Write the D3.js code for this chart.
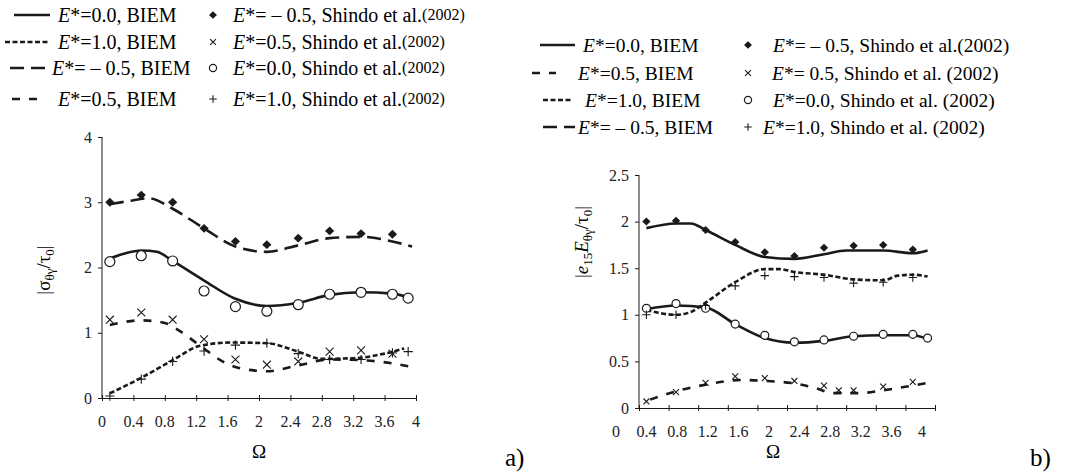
<!DOCTYPE html>
<html>
<meta charset="utf-8">
<head>
<script src="https://d3js.org/d3.v7.min.js"></script>
<style>
body { margin: 0; background: #fff; }
</style>
</head>
<body>
<div id="chart"></div>
<script>
// ---------- panel a) |sigma/tau0| ----------
var omPts = [0.1, 0.5, 0.9, 1.3, 1.7, 2.1, 2.5, 2.9, 3.3, 3.7, 3.9];
var diamondA = [3.0, 3.11, 3.0, 2.60, 2.40, 2.35, 2.45, 2.56, 2.52, 2.51];
var circleA = [2.09, 2.18, 2.10, 1.64, 1.40, 1.33, 1.43, 1.59, 1.62, 1.59, 1.53];
var crossA = [1.20, 1.31, 1.20, 0.90, 0.59, 0.51, 0.56, 0.71, 0.73, 0.68];
var plusA = [0.03, 0.29, 0.56, 0.72, 0.81, 0.84, 0.68, 0.59, 0.59, 0.69, 0.71];

var solidAOm = [0.1, 0.3, 0.5, 0.7, 0.9, 1.3, 1.7, 2.1, 2.5, 2.9, 3.3, 3.7, 3.95];
var solidA = [2.14, 2.22, 2.26, 2.24, 2.10, 1.80, 1.52, 1.41, 1.46, 1.58, 1.62, 1.60, 1.52];
var longDashAOm = [0.1, 0.3, 0.6, 0.9, 1.3, 1.7, 2.1, 2.5, 2.9, 3.3, 3.7, 3.95];
var longDashA = [2.97, 3.01, 3.06, 2.90, 2.60, 2.32, 2.24, 2.34, 2.45, 2.47, 2.40, 2.32];
var dotAOm = [0.1, 0.5, 0.9, 1.25, 1.65, 2.1, 2.5, 2.8, 3.2, 3.6, 3.85];
var dotA = [0.07, 0.31, 0.58, 0.80, 0.85, 0.84, 0.71, 0.60, 0.61, 0.68, 0.76];
var dashAOm = [0.1, 0.5, 0.8, 1.0, 1.25, 1.6, 1.95, 2.1, 2.5, 2.9, 3.3, 3.7, 4.0];
var dashA = [1.12, 1.19, 1.15, 1.02, 0.80, 0.52, 0.42, 0.41, 0.50, 0.59, 0.58, 0.53, 0.46];

// ---------- panel b) |e15 E/tau0| ----------
var diamondB = [2.0, 2.01, 1.91, 1.78, 1.67, 1.63, 1.72, 1.74, 1.75, 1.70];
var circleB = [1.07, 1.12, 1.07, 0.90, 0.78, 0.71, 0.73, 0.77, 0.79, 0.79, 0.75];
var plusB = [1.0, 1.0, 1.1, 1.31, 1.42, 1.41, 1.40, 1.34, 1.35, 1.40];
var crossBOm = [0.1, 0.5, 0.9, 1.3, 1.7, 2.1, 2.5, 2.7, 2.9, 3.3, 3.7];
var crossB = [0.07, 0.17, 0.27, 0.34, 0.32, 0.29, 0.24, 0.19, 0.19, 0.23, 0.28];

var topSolidBOm = [0.1, 0.5, 0.7, 0.9, 1.3, 1.7, 2.1, 2.5, 2.8, 3.3, 3.7, 3.9];
var topSolidB = [1.93, 1.98, 1.98, 1.91, 1.75, 1.62, 1.60, 1.65, 1.69, 1.69, 1.66, 1.69];
var lowSolidBOm = [0.1, 0.5, 0.9, 1.3, 1.7, 2.1, 2.5, 2.9, 3.3, 3.7, 3.9];
var lowSolidB = [1.06, 1.10, 1.08, 0.90, 0.75, 0.70, 0.72, 0.77, 0.78, 0.78, 0.74];
var dotBOm = [0.1, 0.5, 0.7, 0.9, 1.3, 1.7, 1.9, 2.1, 2.5, 2.9, 3.3, 3.5, 3.7, 3.9];
var dotB = [1.05, 1.0, 1.03, 1.13, 1.35, 1.49, 1.49, 1.46, 1.43, 1.38, 1.37, 1.42, 1.43, 1.41];
var dashBOm = [0.15, 0.55, 0.9, 1.37, 1.73, 2.13, 2.4, 2.62, 2.98, 3.3, 3.62, 3.9];
var dashB = [0.09, 0.19, 0.25, 0.30, 0.29, 0.26, 0.21, 0.16, 0.16, 0.19, 0.23, 0.27];

var xTicks = [0, 0.4, 0.8, 1.2, 1.6, 2, 2.4, 2.8, 3.2, 3.6, 4];
var yTicksA = [0, 1, 2, 3, 4];
var yTicksB = [0, 0.5, 1, 1.5, 2, 2.5];

var serif = '"Liberation Serif", "Times New Roman", serif';
var svg = d3.select("#chart").append("svg")
    .attr("width", 1071).attr("height", 476)
    .style("font-family", serif);

var ink = "#1a1a1a";
var styles = {
  solid: null,
  longDash: "14,7",
  dot: "5,2.5",
  dash: "8,9"
};

function zip(xs, ys) {
  return ys.map(function(v, i) { return [xs[i], v]; });
}

// s scales the marker size (left panel is drawn a bit bigger)
function markers(g, x, y, xs, ys, kind, s) {
  s = s || 1;
  var pts = zip(xs, ys);
  var sel = g.append("g").selectAll("path").data(pts).enter().append("path")
      .attr("transform", function(d) { return "translate(" + x(d[0]) + "," + y(d[1]) + ") scale(" + s + ")"; });
  if (kind == "diamond") {
    sel.attr("d", "M0,-4.2L4.4,0L0,4.2L-4.4,0Z").attr("fill", ink);
  } else if (kind == "circle") {
    sel.attr("d", d3.symbol().type(d3.symbolCircle).size(50))
       .attr("fill", "#fff").attr("stroke", ink).attr("stroke-width", 1.2 / s);
  } else if (kind == "cross") {
    sel.attr("d", "M-3.3,-3.3L3.3,3.3M-3.3,3.3L3.3,-3.3").attr("stroke", ink).attr("stroke-width", 1.1 / s);
  } else {
    sel.attr("d", "M-4.2,0H4.2M0,-4.2V4.2").attr("stroke", ink).attr("stroke-width", 1.1 / s);
  }
}

function curve(g, x, y, xs, ys, style) {
  var line = d3.line().x(function(d) { return x(d[0]); }).y(function(d) { return y(d[1]); })
      .curve(d3.curveMonotoneX);
  g.append("path").datum(zip(xs, ys))
    .attr("d", line).attr("fill", "none").attr("stroke", ink)
    .attr("stroke-width", 2.6).attr("stroke-dasharray", styles[style]);
}

function axes(g, x, y, yTicks, xLabel, yFmt) {
  var ax = g.append("g").attr("transform", "translate(0," + y.range()[0] + ")")
      .call(d3.axisBottom(x).tickValues(xTicks).tickSize(3).tickFormat(""));
  ax.selectAll(".tick line").attr("y1", -3).attr("y2", 3);
  ax.select(".domain").attr("stroke", ink);
  ax.selectAll(".tick line").attr("stroke", ink);
  var lab = g.append("g");
  lab.selectAll("text").data(xTicks).enter().append("text")
    .attr("x", function(d) { return xLabel(d); })
    .attr("y", y.range()[0] + 29)
    .attr("text-anchor", "middle").attr("font-size", 16).attr("fill", "#222")
    .style("font-family", serif)
    .text(function(d) { return d3.format("")(d); });

  var ay = g.append("g").attr("transform", "translate(" + x.range()[0] + ",0)")
      .call(d3.axisLeft(y).tickValues(yTicks).tickSize(4).tickPadding(6).tickFormat(yFmt));
  ay.select(".domain").attr("stroke", ink).attr("d", "M0," + y.range()[0] + "V" + y.range()[1]);
  ay.selectAll(".tick line").attr("stroke", ink);
  ay.selectAll(".tick text").attr("font-size", 16).attr("fill", "#222").style("font-family", serif);
}

// ---------- panel a ----------
var xA = d3.scaleLinear().domain([0, 4]).range([102, 416]);
var yA = d3.scaleLinear().domain([0, 4]).range([398, 137]);
var gA = svg.append("g");
axes(gA, xA, yA, yTicksA, xA, d3.format(""));
curve(gA, xA, yA, longDashAOm, longDashA, "longDash");
curve(gA, xA, yA, solidAOm, solidA, "solid");
curve(gA, xA, yA, dashAOm, dashA, "dash");
curve(gA, xA, yA, dotAOm, dotA, "dot");
markers(gA, xA, yA, omPts, diamondA, "diamond", 1.05);
markers(gA, xA, yA, omPts, circleA, "circle", 1.25);
markers(gA, xA, yA, omPts, crossA, "cross", 1.2);
markers(gA, xA, yA, omPts, plusA, "plus", 1.1);

gA.append("text").attr("x", 259).attr("y", 458).attr("text-anchor", "middle")
  .attr("font-size", 19).text("Ω");
gA.append("text").attr("x", 505).attr("y", 466).attr("font-size", 25).text("a)");
var ylA = gA.append("text").attr("transform", "translate(50,270) rotate(-90)")
  .attr("text-anchor", "middle").attr("font-size", 19);
ylA.append("tspan").text("|σ");
ylA.append("tspan").attr("font-size", 13).attr("dy", 4).text("θγ");
ylA.append("tspan").attr("dy", -4).text("/τ");
ylA.append("tspan").attr("font-size", 13).attr("dy", 4).text("0");
ylA.append("tspan").attr("dy", -4).text("|");

// ---------- panel b ----------
var xB = d3.scaleLinear().domain([0, 4]).range([639, 935]);
var xBLabel = d3.scaleLinear().domain([0, 4]).range([616, 922]);
var yB = d3.scaleLinear().domain([0, 2.5]).range([408, 175]);
var gB = svg.append("g");
axes(gB, xB, yB, yTicksB, xBLabel, d3.format(""));
curve(gB, xB, yB, topSolidBOm, topSolidB, "solid");
curve(gB, xB, yB, lowSolidBOm, lowSolidB, "solid");
curve(gB, xB, yB, dotBOm, dotB, "dot");
curve(gB, xB, yB, dashBOm, dashB, "dash");
markers(gB, xB, yB, omPts, diamondB, "diamond", 0.95);
markers(gB, xB, yB, omPts, circleB, "circle", 1);
markers(gB, xB, yB, omPts, plusB, "plus", 1);
markers(gB, xB, yB, crossBOm, crossB, "cross", 0.9);

gB.append("text").attr("x", 773).attr("y", 458).attr("text-anchor", "middle")
  .attr("font-size", 19).text("Ω");
gB.append("text").attr("x", 1030).attr("y", 466).attr("font-size", 25).text("b)");
var ylB = gB.append("text").attr("transform", "translate(588,242) rotate(-90)")
  .attr("text-anchor", "middle").attr("font-size", 19);
ylB.append("tspan").text("|");
ylB.append("tspan").attr("font-style", "italic").text("e");
ylB.append("tspan").attr("font-size", 13).attr("dy", 4).text("15");
ylB.append("tspan").attr("dy", -4).attr("font-style", "italic").text("E");
ylB.append("tspan").attr("font-size", 13).attr("dy", 4).text("θγ");
ylB.append("tspan").attr("dy", -4).text("/τ");
ylB.append("tspan").attr("font-size", 13).attr("dy", 4).text("0");
ylB.append("tspan").attr("dy", -4).text("|");

// ---------- legends ----------
var legA = [
  {style: "solid", txt: "=0.0, BIEM", mk: "diamond", mtxt: "= – 0.5, Shindo et al.", yr: "(2002)"},
  {style: "dot", txt: "=1.0, BIEM", mk: "cross", mtxt: "=0.5, Shindo et al.", yr: "(2002)"},
  {style: "longDash", txt: "= – 0.5, BIEM", mk: "circle", mtxt: "=0.0, Shindo et al.", yr: "(2002)"},
  {style: "dash", txt: "=0.5, BIEM", mk: "plus", mtxt: "=1.0, Shindo et al.", yr: "(2002)"}
];
var legB = [
  {style: "solid", txt: "=0.0, BIEM", mk: "diamond", mtxt: "= – 0.5, Shindo et al.", yr: "(2002)"},
  {style: "dash", txt: "=0.5, BIEM", mk: "cross", mtxt: "= 0.5, Shindo et al. ", yr: "(2002)"},
  {style: "dot", txt: "=1.0, BIEM", mk: "circle", mtxt: "=0.0, Shindo et al. ", yr: "(2002)"},
  {style: "longDash", txt: "= – 0.5, BIEM", mk: "plus", mtxt: "=1.0, Shindo et al. ", yr: "(2002)"}
];

function legend(items, ys, cfg) {
  var g = svg.append("g");
  items.forEach(function(d, i) {
    var yy = ys[i];
    var l = cfg.line[i];
    g.append("line").attr("x1", l[0]).attr("x2", l[1]).attr("y1", yy).attr("y2", yy)
      .attr("stroke", ink).attr("stroke-width", 2.6).attr("stroke-dasharray", styles[d.style]);
    var t = g.append("text").attr("x", cfg.text[i]).attr("y", yy + 7).attr("font-size", cfg.size);
    t.append("tspan").attr("font-style", "italic").text("E");
    t.append("tspan").text("*" + d.txt);
    var mx = cfg.mark[i];
    var fake = d3.scaleLinear().domain([0, 1]).range([mx, mx + 1]);
    var fy = d3.scaleLinear().domain([0, 1]).range([yy, yy + 1]);
    markers(g, fake, fy, [0], [0], d.mk, 0.9);
    var t2 = g.append("text").attr("x", cfg.mtext[i]).attr("y", yy + 7).attr("font-size", cfg.size);
    t2.append("tspan").attr("font-style", "italic").text("E");
    t2.append("tspan").text("*" + d.mtxt);
    t2.append("tspan").attr("font-size", cfg.yrSize).attr("dy", cfg.yrDy).text(d.yr);
  });
}

legend(legA, [15, 42, 68, 99], {
  size: 20,
  line: [[14, 50], [5, 48], [10, 47], [12, 37]],
  text: [58, 58, 52, 58],
  mark: [213, 213, 213, 213],
  mtext: [233, 233, 233, 233],
  yrSize: 16, yrDy: -2
});
legend(legB, [45, 73, 100, 127], {
  size: 19.5,
  line: [[540, 575], [532, 556], [543, 572], [543, 575]],
  text: [583, 578, 585, 578],
  mark: [748, 748, 748, 748],
  mtext: [773, 772, 773, 763],
  yrSize: 19.5, yrDy: 0
});
</script>
</body>
</html>
